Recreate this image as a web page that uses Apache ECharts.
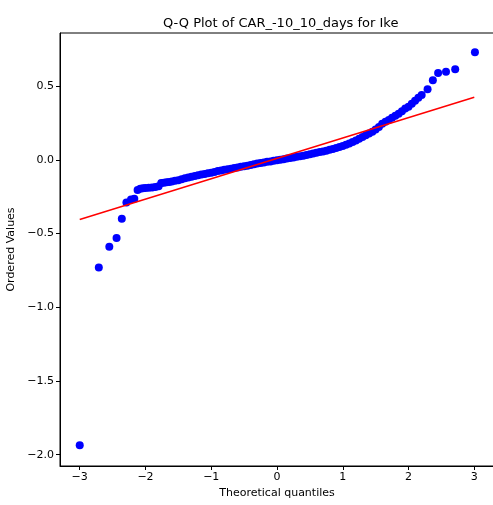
<!DOCTYPE html>
<html>
<head>
<meta charset="utf-8">
<script src="https://cdn.jsdelivr.net/npm/echarts@6/dist/echarts.min.js"></script>
<style>
  html, body { margin: 0; padding: 0; background: #fff; }
  #chart { width: 493px; height: 505px; }
</style>
</head>
<body>
<div id="chart"></div>
<script>
// theoretical quantiles (x) and ordered values (y)
var theoQ = [
  -3.00, -2.71, -2.55, -2.44, -2.36, -2.29, -2.22, -2.17,
  -2.12, -2.08, -2.04, -2.00, -1.95, -1.90, -1.85, -1.80,
  -1.76, -1.72, -1.68, -1.64, -1.60, -1.55, -1.50, -1.45,
  -1.40, -1.35, -1.30, -1.25, -1.20, -1.15, -1.10, -1.05,
  -1.00, -0.95, -0.90, -0.85, -0.80, -0.75, -0.70, -0.65,
  -0.60, -0.55, -0.50, -0.45, -0.40, -0.35, -0.30, -0.25,
  -0.20, -0.15, -0.10, -0.05, 0.00, 0.05, 0.10, 0.15,
  0.20, 0.25, 0.30, 0.35, 0.40, 0.45, 0.50, 0.55,
  0.60, 0.65, 0.70, 0.75, 0.80, 0.85, 0.90, 0.95,
  1.00, 1.05, 1.10, 1.15, 1.20, 1.25, 1.30, 1.35,
  1.40, 1.45, 1.50, 1.55, 1.60, 1.65, 1.70, 1.75,
  1.80, 1.85, 1.90, 1.95, 2.00, 2.05, 2.10, 2.15,
  2.20, 2.29, 2.37, 2.45, 2.57, 2.71, 3.01
];
var orderedVals = [
  -1.937, -0.730, -0.590, -0.530, -0.400, -0.290, -0.270, -0.265,
  -0.205, -0.196, -0.193, -0.192, -0.190, -0.188, -0.185, -0.180,
  -0.158, -0.155, -0.152, -0.150, -0.147, -0.143, -0.138, -0.132,
  -0.125, -0.120, -0.115, -0.110, -0.105, -0.100, -0.096, -0.092,
  -0.088, -0.082, -0.076, -0.072, -0.068, -0.064, -0.060, -0.056,
  -0.052, -0.048, -0.044, -0.040, -0.035, -0.030, -0.026, -0.022,
  -0.018, -0.014, -0.011, -0.007, -0.003, 0.000, 0.004, 0.008,
  0.012, 0.016, 0.020, 0.024, 0.028, 0.032, 0.037, 0.042,
  0.047, 0.052, 0.057, 0.062, 0.068, 0.074, 0.080, 0.087,
  0.094, 0.102, 0.110, 0.120, 0.130, 0.142, 0.154, 0.166,
  0.178, 0.190, 0.205, 0.222, 0.245, 0.258, 0.270, 0.285,
  0.298, 0.312, 0.330, 0.348, 0.360, 0.380, 0.400, 0.420,
  0.440, 0.478, 0.539, 0.589, 0.598, 0.614, 0.729
];
// least-squares fit line end points
var fitX = [-3.0, 3.0];
var fitY = [-0.405, 0.424];

var xTicks = [-3, -2, -1, 0, 1, 2, 3];
var yTicks = [-2.0, -1.5, -1.0, -0.5, 0.0, 0.5];

var pts = [];
for (var i = 0; i < theoQ.length; i++) {
  pts.push([theoQ[i], orderedVals[i]]);
}
var fit = [];
for (var j = 0; j < fitX.length; j++) {
  fit.push([fitX[j], fitY[j]]);
}

function minus(s) { return String(s).replace('-', '\u2212'); }

var font = 'DejaVu Sans';
var chart = echarts.init(document.getElementById('chart'));
chart.setOption({
  animation: false,
  title: {
    text: 'Q-Q Plot of CAR_-10_10_days for Ike',
    left: 158,
    top: 12,
    textStyle: { fontFamily: font, fontSize: 13, fontWeight: 'normal', color: '#000' }
  },
  grid: {
    left: 60, right: -1, top: 33, bottom: 39,
    outerBoundsMode: 'none', containLabel: false,
    show: true, borderColor: '#000', borderWidth: 1, backgroundColor: 'transparent'
  },
  xAxis: {
    type: 'value', min: -3.3, max: 3.3,
    name: 'Theoretical quantiles', nameLocation: 'middle', nameGap: 22,
    nameTextStyle: { fontFamily: font, fontSize: 11, color: '#000' },
    axisLine: { show: true, onZero: false, lineStyle: { color: '#000', width: 1 } },
    axisTick: { show: true, length: 4, customValues: xTicks, lineStyle: { color: '#000' } },
    axisLabel: {
      customValues: xTicks, margin: 6,
      fontFamily: font, fontSize: 11, color: '#000',
      formatter: function (v) { return minus(v); }
    },
    splitLine: { show: false }
  },
  yAxis: {
    type: 'value', min: -2.077, max: 0.86,
    name: 'Ordered Values', nameLocation: 'middle', nameGap: 40,
    nameTextStyle: { fontFamily: font, fontSize: 11, color: '#000' },
    axisLine: { show: true, onZero: false, lineStyle: { color: '#000', width: 1 } },
    axisTick: { show: true, length: 4, customValues: yTicks, lineStyle: { color: '#000' } },
    axisLabel: {
      customValues: yTicks, margin: 6,
      fontFamily: font, fontSize: 11, color: '#000',
      formatter: function (v) { return minus(v.toFixed(1)); }
    },
    splitLine: { show: false }
  },
  series: [
    {
      type: 'scatter',
      data: pts,
      symbolSize: 8,
      itemStyle: { color: '#0000ff', opacity: 1 }
    },
    {
      type: 'line',
      data: fit,
      showSymbol: false,
      symbol: 'none',
      lineStyle: { color: '#ff0000', width: 1.5 },
      z: 3
    }
  ]
});
</script>
</body>
</html>
